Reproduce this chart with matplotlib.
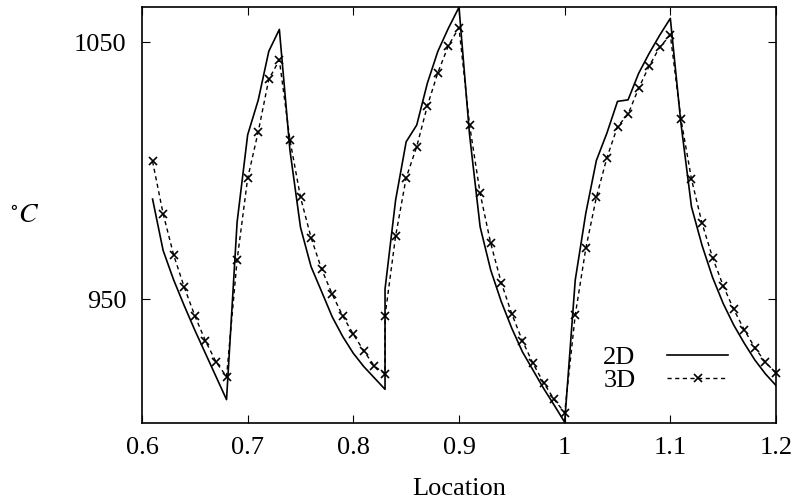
import matplotlib
matplotlib.use("Agg")
import matplotlib.pyplot as plt

# 2D series (solid line); duplicate x at 0.83 gives the vertical jump
x_2d = [0.61, 0.62, 0.63, 0.64, 0.65, 0.66, 0.67, 0.68, 0.69, 0.70,
        0.71, 0.72, 0.73, 0.74, 0.75, 0.76, 0.77, 0.78, 0.79, 0.80,
        0.81, 0.82, 0.83, 0.83, 0.84, 0.85, 0.86, 0.87, 0.88, 0.89,
        0.90, 0.91, 0.92, 0.93, 0.94, 0.95, 0.96, 0.97, 0.98, 0.99,
        1.00, 1.01, 1.02, 1.03, 1.04, 1.05, 1.06, 1.07, 1.08, 1.09,
        1.10, 1.11, 1.12, 1.13, 1.14, 1.15, 1.16, 1.17, 1.18, 1.19, 1.20]
t_2d = [989.0, 969.0, 957.5, 947.5, 938.0, 929.0, 920.0, 911.0, 980.0, 1014.0,
        1027.5, 1046.5, 1055.0, 1008.0, 978.0, 962.7, 953.0, 943.2, 935.5, 929.0,
        923.8, 919.4, 915.0, 954.0, 988.6, 1011.3, 1017.8, 1034.0, 1046.5, 1055.5,
        1063.6, 1014.0, 978.2, 961.4, 949.1, 938.7, 929.6, 922.5, 915.4, 908.9,
        902.2, 957.5, 983.5, 1004.0, 1014.7, 1027.0, 1027.6, 1037.9, 1045.7, 1052.8,
        1059.3, 1018.6, 986.0, 971.0, 958.5, 948.4, 940.0, 932.9, 926.4, 921.0, 916.5]

# 3D series (dashed line with x markers)
x_3d = [0.61, 0.62, 0.63, 0.64, 0.65, 0.66, 0.67, 0.68, 0.69, 0.70,
        0.71, 0.72, 0.73, 0.74, 0.75, 0.76, 0.77, 0.78, 0.79, 0.80,
        0.81, 0.82, 0.83, 0.83, 0.84, 0.85, 0.86, 0.87, 0.88, 0.89,
        0.90, 0.91, 0.92, 0.93, 0.94, 0.95, 0.96, 0.97, 0.98, 0.99,
        1.00, 1.01, 1.02, 1.03, 1.04, 1.05, 1.06, 1.07, 1.08, 1.09,
        1.10, 1.11, 1.12, 1.13, 1.14, 1.15, 1.16, 1.17, 1.18, 1.19, 1.20]
t_3d = [1003.7, 983.3, 967.2, 954.7, 943.6, 933.9, 925.7, 919.9, 965.3, 997.1,
        1015.2, 1035.6, 1043.1, 1012.0, 989.7, 974.0, 961.7, 952.0, 943.5, 936.4,
        929.9, 924.0, 921.0, 943.5, 974.6, 997.3, 1009.4, 1025.2, 1038.2, 1048.7,
        1055.7, 1017.8, 991.2, 971.8, 956.5, 944.3, 933.9, 925.1, 917.6, 911.1,
        905.9, 943.9, 969.8, 989.7, 1005.1, 1017.2, 1022.0, 1032.1, 1040.8, 1048.1,
        1052.8, 1020.2, 996.8, 979.6, 966.2, 955.3, 946.1, 938.1, 931.2, 925.5, 921.4]

x_ticks = [0.6, 0.7, 0.8, 0.9, 1.0, 1.1, 1.2]
x_tick_labels = ["0.6", "0.7", "0.8", "0.9", "1", "1.1", "1.2"]
y_ticks = [950, 1050]
y_tick_labels = ["950", "1050"]
series_labels = ["2D", "3D"]

plt.rcParams["font.family"] = ["Liberation Serif", "DejaVu Serif"]
plt.rcParams["mathtext.fontset"] = "stix"

fig = plt.figure(figsize=(7.95, 4.99), dpi=100)
ax = fig.add_axes([142 / 795, 1 - 423 / 499, (776 - 142) / 795, (423 - 7.3) / 499])

ax.plot(x_2d, t_2d, color="black", lw=1.2, linestyle="-", label=series_labels[0])
ax.plot(x_3d, t_3d, color="black", lw=1.0, linestyle=(0, (3.0, 2.5)),
        marker="x", markersize=5.5, markeredgewidth=1.2, label=series_labels[1],
        clip_on=False)

ax.set_xlim(0.6, 1.2)
ax.set_ylim(901.9, 1063.6)
ax.set_xticks(x_ticks)
ax.set_xticklabels(x_tick_labels)
ax.set_yticks(y_ticks)
ax.set_yticklabels(y_tick_labels)

ax.tick_params(axis="both", which="both", direction="in", length=6, width=0.8,
               top=True, right=True, labelsize=19, pad=10, colors="black")
ax.tick_params(axis="y", pad=11)
for s in ax.spines.values():
    s.set_linewidth(1.2)

ax.set_xlabel("Location", fontsize=19, labelpad=14)
fig.text(25 / 795, 1 - 215 / 499, r"$^{\circ}C$", fontsize=20, ha="center", va="center")

leg = ax.legend(loc="lower right", bbox_to_anchor=(0.945, 0.042), frameon=False,
                markerfirst=False, fontsize=19, handlelength=2.3,
                labelspacing=0.0, handletextpad=1.2, borderpad=0.0)
for t in leg.get_texts():
    t.set_ha("right")

fig.savefig("out.png", dpi=100)
